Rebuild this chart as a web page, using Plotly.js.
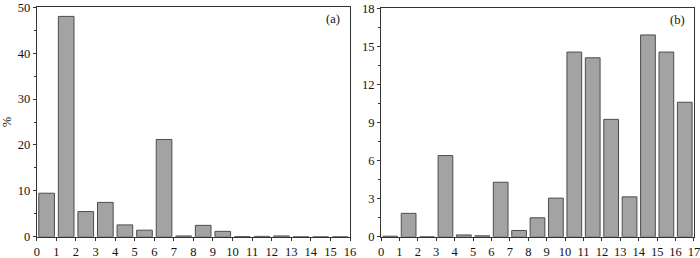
<!DOCTYPE html>
<html><head><meta charset="utf-8">
<script src="https://cdn.plot.ly/plotly-3.0.1.min.js"></script>
<style>html,body{margin:0;padding:0;background:#fff}#c{width:700px;height:258px}</style>
</head><body><div id="c"></div>
<script>
const binsA = [0,1,2,3,4,5,6,7,8,9,10,11,12,13,14,15];
const valuesA = [9.5,48,5.5,7.5,2.6,1.45,21.2,0.2,2.5,1.2,0.05,0.1,0.2,0,0,0];
const binsB = [0,1,2,3,4,5,6,7,8,9,10,11,12,13,14,15,16];
const valuesB = [0.05,1.85,0,6.4,0.15,0.08,4.3,0.5,1.5,3.05,14.55,14.1,9.25,3.15,15.9,14.55,10.6];
const ticksA = [0,1,2,3,4,5,6,7,8,9,10,11,12,13,14,15,16];
const ticksB = [0,1,2,3,4,5,6,7,8,9,10,11,12,13,14,15,16,17];

const barStyle = {color:'#a3a3a3', line:{color:'#4d4d4d', width:1}};
const traces = [
  {type:'bar', x:binsA.map(v=>v+0.5), y:valuesA, width:0.8, marker:barStyle, xaxis:'x', yaxis:'y', hoverinfo:'none'},
  {type:'bar', x:binsB.map(v=>v+0.5), y:valuesB, width:0.8, marker:barStyle, xaxis:'x2', yaxis:'y2', hoverinfo:'none'}
];
const fnt = {family:'Liberation Serif', size:12.5, color:'#111'};
const ax = {showline:true, linecolor:'#333', linewidth:1, mirror:true, ticks:'outside', ticklen:3, tickcolor:'#333', showgrid:false, zeroline:false, tickfont:fnt, ticklabeloverflow:'allow'};
const layout = {
  width:700, height:258, margin:{l:0,r:0,t:0,b:0},
  paper_bgcolor:'#fff', plot_bgcolor:'#fff', showlegend:false, font:fnt,
  xaxis:Object.assign({}, ax, {domain:[0.0526,0.5], range:[0,16], tickvals:ticksA, ticktext:ticksA.map(String), anchor:'y'}),
  yaxis:Object.assign({}, ax, {domain:[0.082,0.972], range:[0,50], tickvals:[0,10,20,30,40,50], anchor:'x',
    minor:{tickvals:[5,15,25,35,45], ticks:'outside', ticklen:2, tickcolor:'#333'},
    title:{text:'%', font:fnt, standoff:6}}),
  xaxis2:Object.assign({}, ax, {domain:[0.5443,0.9914], range:[0,17], tickvals:ticksB, ticktext:ticksB.map(String), anchor:'y2'}),
  yaxis2:Object.assign({}, ax, {domain:[0.082,0.968], range:[0,18], tickvals:[0,3,6,9,12,15,18], anchor:'x2',
    minor:{tickvals:[1.5,4.5,7.5,10.5,13.5,16.5], ticks:'outside', ticklen:2, tickcolor:'#333'}}),
  annotations:[
    {text:'(a)', xref:'x', yref:'y', x:15.6, y:47.5, showarrow:false, xanchor:'right', font:fnt},
    {text:'(b)', xref:'x2', yref:'y2', x:16.6, y:17.1, showarrow:false, xanchor:'right', font:fnt}
  ]
};
Plotly.newPlot('c', traces, layout, {staticPlot:true});
</script></body></html>
